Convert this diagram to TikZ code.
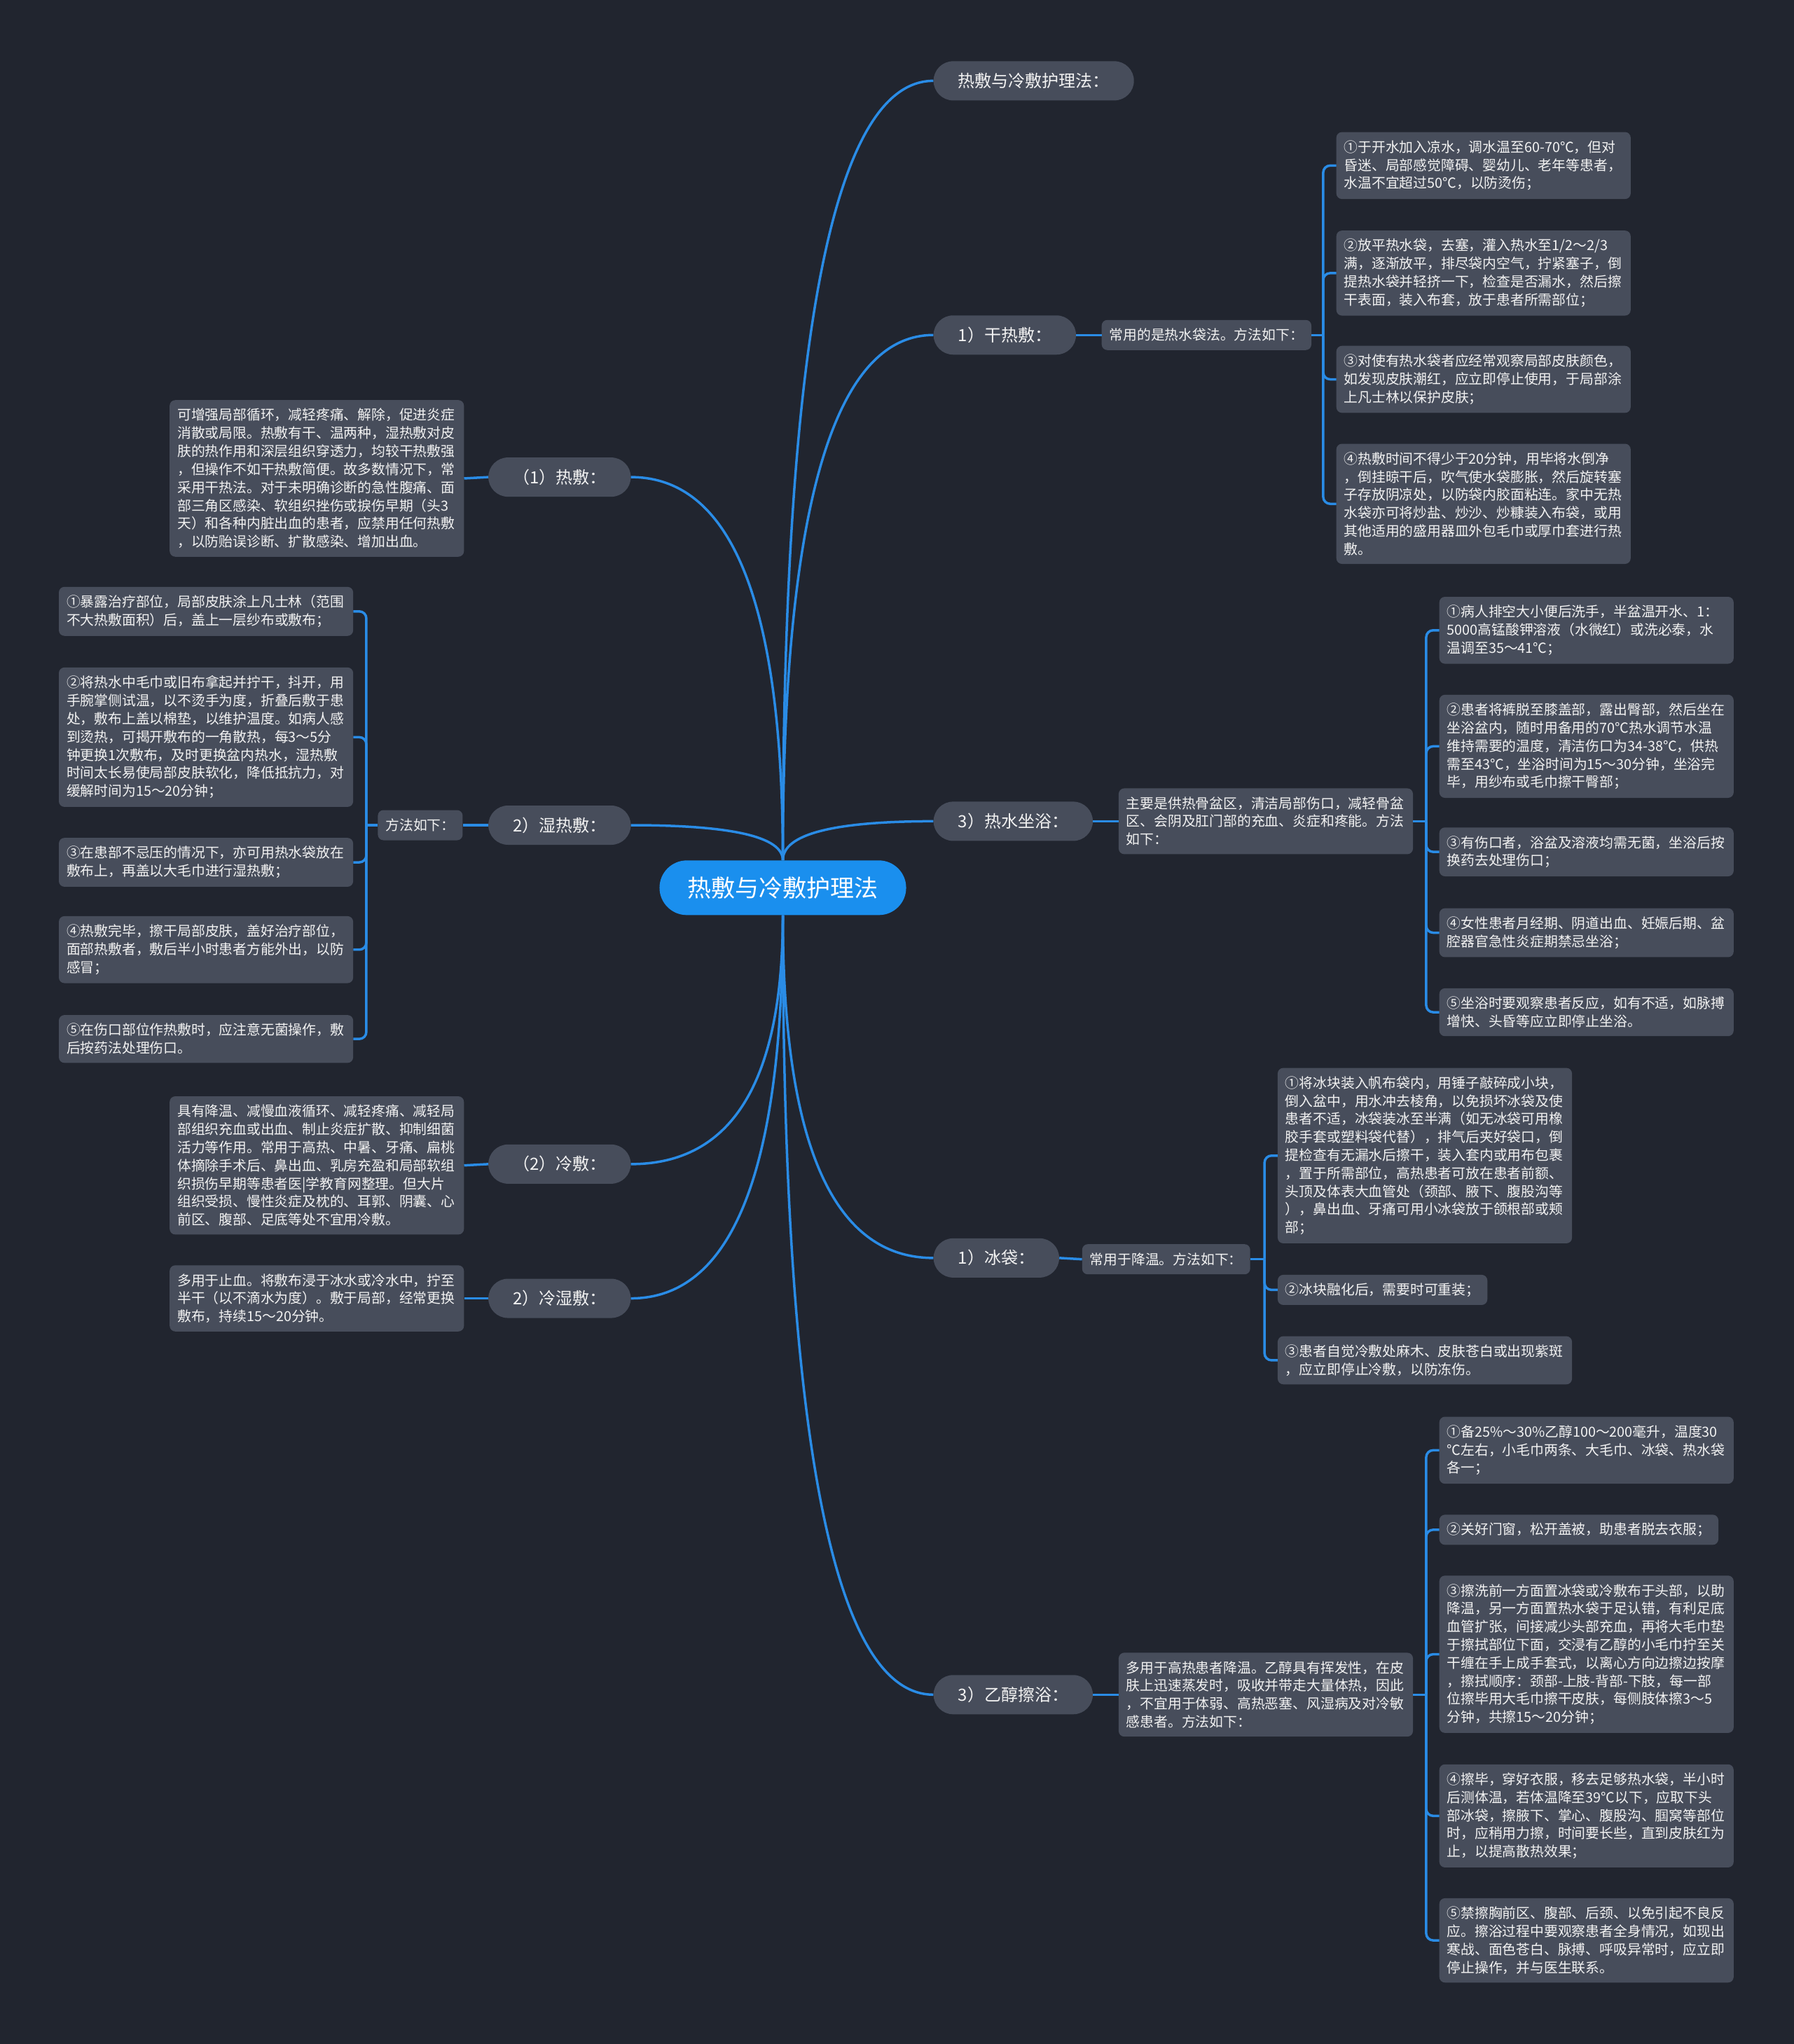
\documentclass[tikz,border=0pt]{standalone}
\usepackage{fontspec}
\newfontfamily\cjkf{Noto Sans CJK SC}
\usetikzlibrary{calc}
\definecolor{bgc}{HTML}{21252F}
\definecolor{boxc}{HTML}{474D5B}
\definecolor{linec}{HTML}{2A8CE6}
\definecolor{rootc}{HTML}{1A8FEE}
\definecolor{txtc}{HTML}{F2F2F2}
\tikzset{
  conn/.style={draw=linec, line width=3.5pt},
  brk/.style={conn, rounded corners=10pt},
  rootnode/.style={fill=rootc, text=white, rounded corners=39pt, minimum height=78pt, minimum width=352pt, inner sep=0pt, font=\cjkf\fontsize{34}{40}\selectfont},
  pill/.style={fill=boxc, text=txtc, rounded corners=28pt, minimum height=56pt, inner xsep=35pt, inner ysep=0pt, font=\cjkf\fontsize{24}{30}\selectfont},
  item/.style={fill=boxc, text=txtc, rounded corners=8pt, inner xsep=11pt, inner ysep=12pt, text width=398pt, align=left, font=\cjkf\fontsize{19.8}{25.8}\selectfont},
  sline/.style={fill=boxc, text=txtc, rounded corners=8pt, inner xsep=11pt, inner ysep=0pt, minimum height=43pt, font=\cjkf\fontsize{19.8}{25.8}\selectfont},
}
\newcommand\mmcurve[2]{\draw[conn] (#1) .. controls ($(#1)!0.667!(#1 |- #2)$) and ($(#2)!0.667!(#1 |- #2)$) .. (#2);}
\newcommand\mmbrkr[2]{\draw[brk] (#1) -- (#1 |- #2.west) -- (#2.west);}
\newcommand\mmbrkl[2]{\draw[brk] (#1) -- (#1 |- #2.east) -- (#2.east);}
\begin{document}
\begin{tikzpicture}[x=1.8605pt, y=-1.8605pt]
\fill[bgc] (0,0) rectangle (1376,1568);
\useasboundingbox (0,0) rectangle (1376,1568);

% root
\node[rootnode] (root) at (600.5,681) {热敷与冷敷护理法};
\coordinate (rt) at (root.north);
\coordinate (rb) at (root.south);

% level 1 right
\node[pill, anchor=west] (t1) at (716,62) {热敷与冷敷护理法：};
\node[pill, anchor=west] (dry) at (716,257) {1）干热敷：};
\node[pill, anchor=west] (sitz) at (716,630) {3）热水坐浴：};
\node[pill, anchor=west] (ice) at (716,965) {1）冰袋：};
\node[pill, anchor=west] (eth) at (716,1300) {3）乙醇擦浴：};
% level 1 left
\node[pill, anchor=east] (hot) at (484,366) {（1）热敷：};
\node[pill, anchor=east] (wet) at (484,633) {2）湿热敷：};
\node[pill, anchor=east] (cold) at (484,893) {（2）冷敷：};
\node[pill, anchor=east] (cwet) at (484,996) {2）冷湿敷：};

% curves
\mmcurve{rt}{t1.west}
\mmcurve{rt}{dry.west}
\mmcurve{rt}{sitz.west}
\mmcurve{rb}{ice.west}
\mmcurve{rb}{eth.west}
\mmcurve{rt}{hot.east}
\mmcurve{rt}{wet.east}
\mmcurve{rb}{cold.east}
\mmcurve{rb}{cwet.east}

% descriptions
\node[sline, anchor=west] (dryd) at (845,257) {常用的是热水袋法。方法如下：};
\node[item, anchor=west] (sitzd) at (858,630) {主要是供热骨盆区，清洁局部伤口，减轻骨盆\\区、会阴及肛门部的充血、炎症和疼能。方法\\如下：};
\node[sline, anchor=west] (iced) at (830,966) {常用于降温。方法如下：};
\node[item, anchor=west] (ethd) at (858,1300) {多用于高热患者降温。乙醇具有挥发性，在皮\\肤上迅速蒸发时，吸收并带走大量体热，因此\\，不宜用于体弱、高热恶塞、风湿病及对冷敏\\感患者。方法如下：};
\node[item, anchor=east] (hotd) at (356,367) {可增强局部循环，减轻疼痛、解除，促进炎症\\消散或局限。热敷有干、温两种，湿热敷对皮\\肤的热作用和深层组织穿透力，均较干热敷强\\，但操作不如干热敷简便。故多数情况下，常\\采用干热法。对于未明确诊断的急性腹痛、面\\部三角区感染、软组织挫伤或捩伤早期（头3\\天）和各种内脏出血的患者，应禁用任何热敷\\，以防贻误诊断、扩散感染、增加出血。};
\node[sline, anchor=east] (wetd) at (355,633) {方法如下：};
\node[item, anchor=east] (coldd) at (356,894) {具有降温、减慢血液循环、减轻疼痛、减轻局\\部组织充血或出血、制止炎症扩散、抑制细菌\\活力等作用。常用于高热、中暑、牙痛、扁桃\\体摘除手术后、鼻出血、乳房充盈和局部软组\\织损伤早期等患者医|学教育网整理。但大片\\组织受损、慢性炎症及枕的、耳郭、阴囊、心\\前区、腹部、足底等处不宜用冷敷。};
\node[item, anchor=east] (cwetd) at (356,996) {多用于止血。将敷布浸于冰水或冷水中，拧至\\半干（以不滴水为度）。敷于局部，经常更换\\敷布，持续15～20分钟。};

\draw[conn] (dry.east) -- (dryd.west);
\draw[conn] (sitz.east) -- (sitzd.west);
\draw[conn] (ice.east) -- (iced.west);
\draw[conn] (eth.east) -- (ethd.west);
\draw[conn] (hot.west) -- (hotd.east);
\draw[conn] (wet.west) -- (wetd.east);
\draw[conn] (cold.west) -- (coldd.east);
\draw[conn] (cwet.west) -- (cwetd.east);

% dry items
\node[item, anchor=west] (d1) at (1025,127) {①于开水加入凉水，调水温至60-70℃，但对\\昏迷、局部感觉障碍、婴幼儿、老年等患者，\\水温不宜超过50℃，以防烫伤；};
\node[item, anchor=west] (d2) at (1025,209.5) {②放平热水袋，去塞，灌入热水至1/2～2/3\\满，逐渐放平，排尽袋内空气，拧紧塞子，倒\\提热水袋并轻挤一下，检查是否漏水，然后擦\\干表面，装入布套，放于患者所需部位；};
\node[item, anchor=west] (d3) at (1025,291) {③对使有热水袋者应经常观察局部皮肤颜色，\\如发现皮肤潮红，应立即停止使用，于局部涂\\上凡士林以保护皮肤；};
\node[item, anchor=west] (d4) at (1025,386.5) {④热敷时间不得少于20分钟，用毕将水倒净\\，倒挂晾干后，吹气使水袋膨胀，然后旋转塞\\子存放阴凉处，以防袋内胶面粘连。家中无热\\水袋亦可将炒盐、炒沙、炒糠装入布袋，或用\\其他适用的盛用器皿外包毛巾或厚巾套进行热\\敷。};
\coordinate (dryj) at (1015,257);
\draw[conn] (dryd.east) -- (dryj);
\mmbrkr{dryj}{d1}
\mmbrkr{dryj}{d2}
\mmbrkr{dryj}{d3}
\mmbrkr{dryj}{d4}

% sitz items
\node[item, anchor=west] (s1) at (1104,483.5) {①病人排空大小便后洗手，半盆温开水、1：\\5000高锰酸钾溶液（水微红）或洗必泰，水\\温调至35～41℃；};
\node[item, anchor=west] (s2) at (1104,572.5) {②患者将裤脱至膝盖部，露出臀部，然后坐在\\坐浴盆内，随时用备用的70℃热水调节水温\\维持需要的温度，清洁伤口为34-38℃，供热\\需至43℃，坐浴时间为15～30分钟，坐浴完\\毕，用纱布或毛巾擦干臀部；};
\node[item, anchor=west] (s3) at (1104,653.5) {③有伤口者，浴盆及溶液均需无菌，坐浴后按\\换药去处理伤口；};
\node[item, anchor=west] (s4) at (1104,715.5) {④女性患者月经期、阴道出血、妊娠后期、盆\\腔器官急性炎症期禁忌坐浴；};
\node[item, anchor=west] (s5) at (1104,776.5) {⑤坐浴时要观察患者反应，如有不适，如脉搏\\增快、头昏等应立即停止坐浴。};
\coordinate (sitzj) at (1094,630);
\draw[conn] (sitzd.east) -- (sitzj);
\mmbrkr{sitzj}{s1}
\mmbrkr{sitzj}{s2}
\mmbrkr{sitzj}{s3}
\mmbrkr{sitzj}{s4}
\mmbrkr{sitzj}{s5}

% ice items
\node[item, anchor=west] (i1) at (980,886.5) {①将冰块装入帆布袋内，用锤子敲碎成小块，\\倒入盆中，用水冲去棱角，以免损坏冰袋及使\\患者不适，冰袋装冰至半满（如无冰袋可用橡\\胶手套或塑料袋代替），排气后夹好袋口，倒\\提检查有无漏水后擦干，装入套内或用布包裹\\，置于所需部位，高热患者可放在患者前额、\\头顶及体表大血管处（颈部、腋下、腹股沟等\\），鼻出血、牙痛可用小冰袋放于颌根部或颊\\部；};
\node[sline, anchor=west] (i2) at (980,989.5) {②冰块融化后，需要时可重装；};
\node[item, anchor=west] (i3) at (980,1043.5) {③患者自觉冷敷处麻木、皮肤苍白或出现紫斑\\，应立即停止冷敷，以防冻伤。};
\coordinate (icej) at (970,966);
\draw[conn] (iced.east) -- (icej);
\mmbrkr{icej}{i1}
\mmbrkr{icej}{i2}
\mmbrkr{icej}{i3}

% ethanol items
\node[item, anchor=west] (e1) at (1104,1112.5) {①备25\%～30\%乙醇100～200毫升，温度30\\℃左右，小毛巾两条、大毛巾、冰袋、热水袋\\各一；};
\node[sline, anchor=west] (e2) at (1104,1173.5) {②关好门窗，松开盖被，助患者脱去衣服；};
\node[item, anchor=west] (e3) at (1104,1269) {③擦洗前一方面置冰袋或冷敷布于头部，以助\\降温，另一方面置热水袋于足认错，有利足底\\血管扩张，间接减少头部充血，再将大毛巾垫\\于擦拭部位下面，交浸有乙醇的小毛巾拧至关\\干缠在手上成手套式，以离心方向边擦边按摩\\，擦拭顺序：颈部-上肢-背部-下肢，每一部\\位擦毕用大毛巾擦干皮肤，每侧肢体擦3～5\\分钟，共擦15～20分钟；};
\node[item, anchor=west] (e4) at (1104,1393) {④擦毕，穿好衣服，移去足够热水袋，半小时\\后测体温，若体温降至39℃以下，应取下头\\部冰袋，擦腋下、掌心、腹股沟、腘窝等部位\\时，应稍用力擦，时间要长些，直到皮肤红为\\止，以提高散热效果；};
\node[item, anchor=west] (e5) at (1104,1488.5) {⑤禁擦胸前区、腹部、后颈、以免引起不良反\\应。擦浴过程中要观察患者全身情况，如现出\\寒战、面色苍白、脉搏、呼吸异常时，应立即\\停止操作，并与医生联系。};
\coordinate (ethj) at (1094,1300);
\draw[conn] (ethd.east) -- (ethj);
\mmbrkr{ethj}{e1}
\mmbrkr{ethj}{e2}
\mmbrkr{ethj}{e3}
\mmbrkr{ethj}{e4}
\mmbrkr{ethj}{e5}

% wet items (left)
\node[item, anchor=east] (w1) at (271,469) {①暴露治疗部位，局部皮肤涂上凡士林（范围\\不大热敷面积）后，盖上一层纱布或敷布；};
\node[item, anchor=east] (w2) at (271,565.5) {②将热水中毛巾或旧布拿起并拧干，抖开，用\\手腕掌侧试温，以不烫手为度，折叠后敷于患\\处，敷布上盖以棉垫，以维护温度。如病人感\\到烫热，可揭开敷布的一角散热，每3～5分\\钟更换1次敷布，及时更换盆内热水，湿热敷\\时间太长易使局部皮肤软化，降低抵抗力，对\\缓解时间为15～20分钟；};
\node[item, anchor=east] (w3) at (271,661.5) {③在患部不忌压的情况下，亦可用热水袋放在\\敷布上，再盖以大毛巾进行湿热敷；};
\node[item, anchor=east] (w4) at (271,728.5) {④热敷完毕，擦干局部皮肤，盖好治疗部位，\\面部热敷者，敷后半小时患者方能外出，以防\\感冒；};
\node[item, anchor=east] (w5) at (271,797) {⑤在伤口部位作热敷时，应注意无菌操作，敷\\后按药法处理伤口。};
\coordinate (wetj) at (281,633);
\draw[conn] (wetd.west) -- (wetj);
\mmbrkl{wetj}{w1}
\mmbrkl{wetj}{w2}
\mmbrkl{wetj}{w3}
\mmbrkl{wetj}{w4}
\mmbrkl{wetj}{w5}
\end{tikzpicture}
\end{document}
